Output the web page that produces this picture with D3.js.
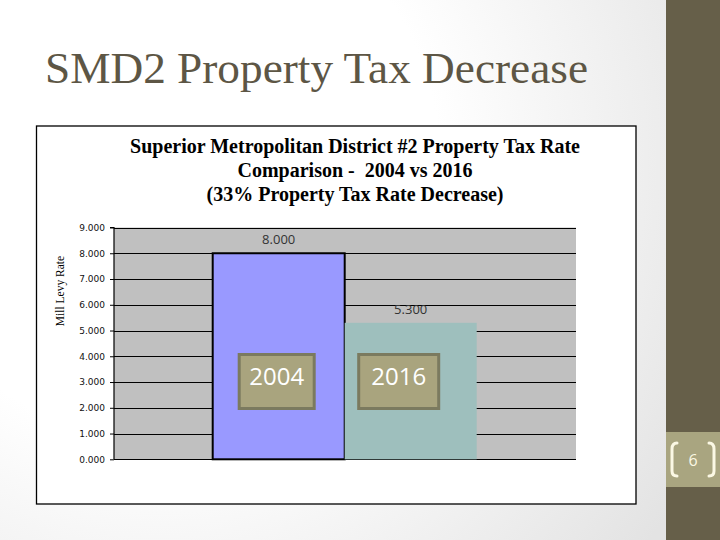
<!DOCTYPE html>
<html>
<head>
<meta charset="utf-8">
<script src="https://cdn.jsdelivr.net/npm/d3@7"></script>
<style>
  html, body { margin: 0; padding: 0; }
  svg { display: block; }
</style>
</head>
<body>
<script>
// ---- data ----
const categories = ["2004", "2016"];
const values = [8.0, 5.3];
const barColors = ["#9999ff", "#9ebfbd"];
const yTickValues = [0, 1, 2, 3, 4, 5, 6, 7, 8, 9];
const slideTitle = "SMD2 Property Tax Decrease";
const chartTitleLines = [
  "Superior Metropolitan District #2 Property Tax Rate",
  "Comparison -\u00a0 2004 vs 2016",
  "(33% Property Tax Rate Decrease)"
];
const yAxisTitle = "Mill Levy Rate";
const pageNumber = "6";

const W = 720, H = 540;
const svg = d3.select("body").append("svg").attr("width", W).attr("height", H);

// background gradient
const defs = svg.append("defs");
const rg = defs.append("radialGradient").attr("id", "bg")
  .attr("gradientUnits", "userSpaceOnUse")
  .attr("cx", 160).attr("cy", 160).attr("r", 620);
rg.append("stop").attr("offset", "0.45").attr("stop-color", "#ffffff");
rg.append("stop").attr("offset", "1").attr("stop-color", "#e3e3e3");
svg.append("rect").attr("width", W).attr("height", H).attr("fill", "url(#bg)");

// right strip
svg.append("rect").attr("x", 666).attr("y", 0).attr("width", 54).attr("height", H).attr("fill", "#665f49");
svg.append("rect").attr("x", 666).attr("y", 432).attr("width", 54).attr("height", 55).attr("fill", "#a9a580");
const br = svg.append("g").attr("fill", "none").attr("stroke", "#fbf8e4").attr("stroke-width", 3).attr("stroke-linecap", "round");
br.append("path").attr("d", "M677,443 Q672,443 672,449 L672,471 Q672,476 677,476");
br.append("path").attr("d", "M709,443 Q714,443 714,449 L714,471 Q714,476 709,476");
svg.append("text").attr("x", 693).attr("y", 466).attr("text-anchor", "middle")
  .attr("font-family", "Open Sans, sans-serif").attr("font-size", 16).attr("fill", "#fbf8e4").text(pageNumber);

// slide title
svg.append("text").attr("x", 45).attr("y", 83)
  .attr("font-family", "Liberation Serif, serif").attr("font-size", 44)
  .attr("fill", "#5d5645").attr("textLength", 543).attr("lengthAdjust", "spacingAndGlyphs")
  .text(slideTitle);

// chart box
svg.append("rect").attr("x", 36.5).attr("y", 126).attr("width", 599.5).attr("height", 378)
  .attr("fill", "#ffffff").attr("stroke", "#000").attr("stroke-width", 1.3);

// chart title
const ct = svg.append("text").attr("text-anchor", "middle")
  .attr("font-family", "Liberation Serif, serif").attr("font-weight", "bold")
  .attr("font-size", 20).attr("fill", "#000");
chartTitleLines.forEach((l, i) => {
  ct.append("tspan").attr("x", 355).attr("y", 153 + i * 24).text(l);
});

// plot
const plot = { left: 114, right: 576, top: 227.5, bottom: 459.3 };
const y = d3.scaleLinear().domain([0, 9]).range([plot.bottom, plot.top]);
const x = d3.scaleBand().domain(categories).range([212.7, 476.7]).padding(0);

svg.append("rect").attr("x", plot.left).attr("y", plot.top)
  .attr("width", plot.right - plot.left).attr("height", plot.bottom - plot.top).attr("fill", "#c0c0c0");

// gridlines
svg.append("g").selectAll("line").data(yTickValues).join("line")
  .attr("x1", plot.left).attr("x2", plot.right)
  .attr("y1", d => Math.round(y(d)) + 0.5).attr("y2", d => Math.round(y(d)) + 0.5)
  .attr("stroke", "#000").attr("stroke-width", 1.1);

// bars
svg.append("g").selectAll("rect").data(values).join("rect")
  .attr("x", (d, i) => x(categories[i]))
  .attr("y", d => y(d))
  .attr("width", x.bandwidth())
  .attr("height", d => y(0) - y(d))
  .attr("fill", (d, i) => barColors[i])
  .attr("stroke", (d, i) => i === 0 ? "#000" : "none")
  .attr("stroke-width", 2);

// y axis
const yAxis = d3.axisLeft(y).tickValues(yTickValues).tickFormat(d3.format(".3f")).tickSize(4).tickPadding(5);
const ga = svg.append("g").attr("transform", `translate(${plot.left},0)`).call(yAxis);
ga.select(".domain").attr("stroke", "#000").attr("stroke-width", 1.2).attr("d", `M-4,${plot.top}H0V${plot.bottom}`);
ga.selectAll(".tick line").attr("stroke", "#000");
ga.selectAll("text").attr("font-family", "DejaVu Sans, sans-serif").attr("font-size", 9).attr("fill", "#111");

// y axis title
svg.append("text").attr("transform", "translate(64,291) rotate(-90)").attr("text-anchor", "middle")
  .attr("font-family", "Liberation Serif, serif").attr("font-size", 11.5).attr("fill", "#000")
  .text(yAxisTitle);

// value labels
svg.append("g").selectAll("text").data(values).join("text")
  .attr("x", (d, i) => x(categories[i]) + x.bandwidth() / 2)
  .attr("y", d => y(d) - 9)
  .attr("text-anchor", "middle")
  .attr("font-family", "Open Sans, sans-serif").attr("font-size", 13).attr("fill", "#333")
  .text(d => d3.format(".3f")(d));

// category label boxes
const boxOffsets = [-2, -12];
const boxW = [75, 80];
const lb = svg.append("g").selectAll("g").data(categories).join("g")
  .attr("transform", (d, i) => `translate(${x(d) + x.bandwidth() / 2 + boxOffsets[i]},0)`);
lb.append("rect").attr("x", (d, i) => -boxW[i] / 2).attr("y", 354.5).attr("width", (d, i) => boxW[i]).attr("height", 54)
  .attr("fill", "#a9a47e").attr("stroke", "#7b7a5f").attr("stroke-width", 3);
lb.append("text").attr("x", 0).attr("y", 384.5).attr("text-anchor", "middle")
  .attr("font-family", "Open Sans, sans-serif").attr("font-size", 24).attr("fill", "#ffffff")
  .text(d => d);
</script>
</body>
</html>
